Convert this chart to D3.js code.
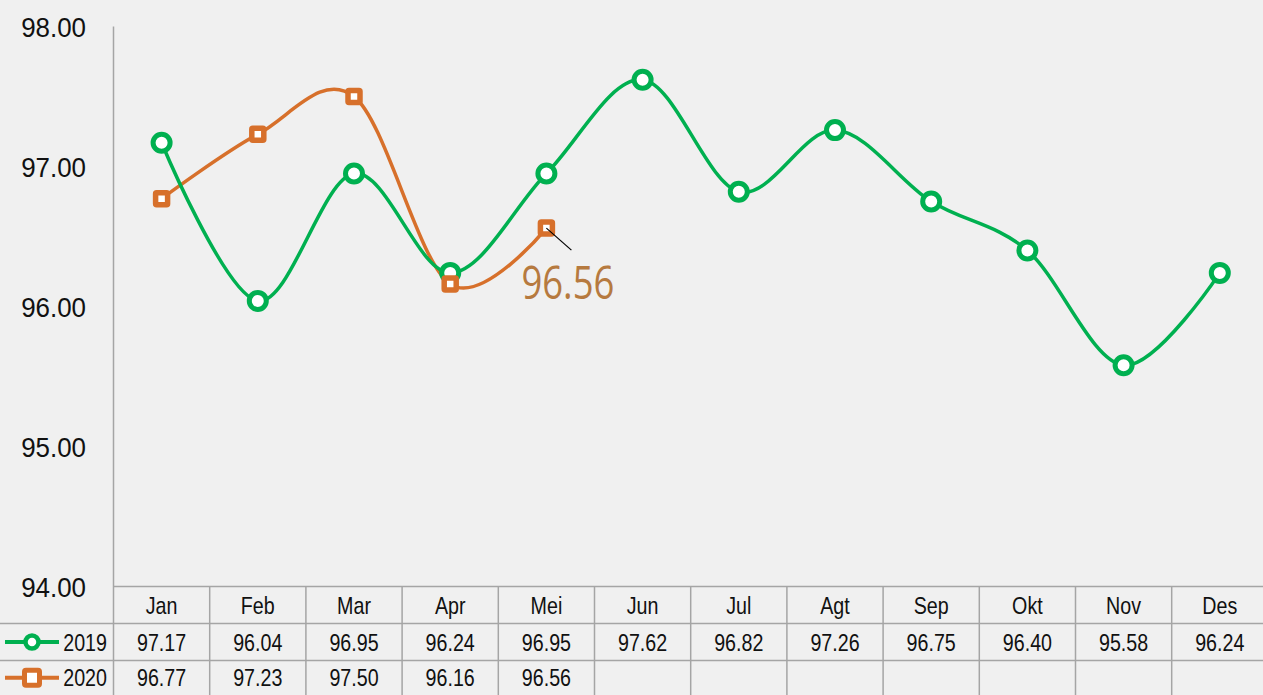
<!DOCTYPE html>
<html><head><meta charset="utf-8">
<script src="https://cdn.jsdelivr.net/npm/d3@7"></script>
<style>
html,body{margin:0;padding:0;background:#f0f0f0;overflow:hidden}
text{font-family:"Liberation Sans",Arial,sans-serif}
</style></head>
<body><svg id="c" width="1263" height="695"></svg>
<script>
const months = ["Jan","Feb","Mar","Apr","Mei","Jun","Jul","Agt","Sep","Okt","Nov","Des"];
const seriesNames = ["2019","2020"];
const values2019 = [97.17,96.04,96.95,96.24,96.95,97.62,96.82,97.26,96.75,96.40,95.58,96.24];
const values2020 = [96.77,97.23,97.50,96.16,96.56];
const yTicks = [94,95,96,97,98];
const annotationValue = 96.56;

const svg = d3.select("#c");
const W = 1263, H = 695;
const left = 113.5, colW = 96.2;
const greenC = "#00b050", orangeC = "#d7702b", gridC = "#a5a5a5";
const NARROW = 0.82;

svg.append("rect").attr("width",W).attr("height",H).attr("fill","#f0f0f0");

const x = d3.scaleBand().domain(months).range([left, left + colW*12]).padding(0);
const y = d3.scaleLinear().domain([94,98]).range([586.5,26.5]);

function ntext(g, tx, ty, str, size, anchor, fill, sx){
  return g.append("text")
    .attr("transform",`translate(${tx},${ty}) scale(${sx||NARROW},1)`)
    .attr("dy","0.36em").attr("text-anchor",anchor).attr("font-size",size)
    .attr("fill",fill||"#111").text(str);
}

// y axis line
svg.append("line").attr("x1",left).attr("x2",left).attr("y1",y(98)).attr("y2",H)
  .attr("stroke",gridC).attr("stroke-width",1.5);

// y tick labels
const yg = svg.append("g");
yTicks.forEach(d=>ntext(yg, 86, y(d), d.toFixed(2), 28.5, "end", "#111", 0.91));

// table
const rowY = [586.5, 623.5, 660.5, 697];
const tbl = svg.append("g");
tbl.append("line").attr("x1",left).attr("x2",W).attr("y1",rowY[0]).attr("y2",rowY[0]).attr("stroke",gridC).attr("stroke-width",1.5);
[rowY[1],rowY[2]].forEach(yy=>tbl.append("line").attr("x1",0).attr("x2",W).attr("y1",yy).attr("y2",yy).attr("stroke",gridC).attr("stroke-width",1.5));
months.forEach((m,i)=>{
  if(i>0) tbl.append("line").attr("x1",x(m)).attr("x2",x(m)).attr("y1",rowY[0]).attr("y2",H).attr("stroke",gridC).attr("stroke-width",1.5);
});
const cx = m => x(m) + x.bandwidth()/2;
const ly0 = (rowY[0]+rowY[1])/2, ly1 = (rowY[1]+rowY[2])/2, ly2 = (rowY[2]+695)/2;
months.forEach(m=>ntext(tbl, cx(m), ly0, m, 24, "middle"));
values2019.forEach((d,i)=>ntext(tbl, cx(months[i]), ly1, d.toFixed(2), 24, "middle"));
values2020.forEach((d,i)=>ntext(tbl, cx(months[i]), ly2, d.toFixed(2), 24, "middle"));

// legend keys in table
tbl.append("line").attr("x1",5).attr("x2",59).attr("y1",ly1).attr("y2",ly1).attr("stroke",greenC).attr("stroke-width",4);
tbl.append("circle").attr("cx",32).attr("cy",ly1).attr("r",6.5).attr("fill","#fff").attr("stroke",greenC).attr("stroke-width",4.5);
ntext(tbl, 107, ly1, seriesNames[0], 24, "end");
tbl.append("line").attr("x1",5).attr("x2",59).attr("y1",ly2).attr("y2",ly2).attr("stroke",orangeC).attr("stroke-width",4);
tbl.append("rect").attr("x",32-7.5).attr("y",ly2-7.5).attr("width",15).attr("height",15).attr("rx",1.5).attr("fill","#fff").attr("stroke",orangeC).attr("stroke-width",5);
ntext(tbl, 107, ly2, seriesNames[1], 24, "end");

// lines
const line = d3.line().x((d,i)=>cx(months[i])).y(d=>y(d)).curve(d3.curveCardinal.tension(0));
svg.append("path").attr("d",line(values2020)).attr("fill","none").attr("stroke",orangeC).attr("stroke-width",3.5);
svg.append("path").attr("d",line(values2019)).attr("fill","none").attr("stroke",greenC).attr("stroke-width",3.5);

// markers 2019
svg.append("g").selectAll("circle").data(values2019).join("circle")
  .attr("cx",(d,i)=>cx(months[i])).attr("cy",d=>y(d)).attr("r",8.5)
  .attr("fill","#fff").attr("stroke",greenC).attr("stroke-width",5);
// markers 2020
svg.append("g").selectAll("rect").data(values2020).join("rect")
  .attr("x",(d,i)=>cx(months[i])-6).attr("y",d=>y(d)-6).attr("width",12).attr("height",12).attr("rx",1)
  .attr("fill","#fff").attr("stroke",orangeC).attr("stroke-width",5.5);

// annotation
const ax = cx(months[4]), ay = y(annotationValue);
svg.append("line").attr("x1",ax).attr("y1",ay).attr("x2",ax+25).attr("y2",ay+22).attr("stroke","#000").attr("stroke-width",1.2);
svg.append("text").attr("transform",`translate(${ax-25},${ay+71}) scale(0.81,1)`)
  .style("font-family","'Open Sans',sans-serif").attr("font-size",45).attr("fill","#b67a3f").text(annotationValue.toFixed(2));
</script></body></html>
